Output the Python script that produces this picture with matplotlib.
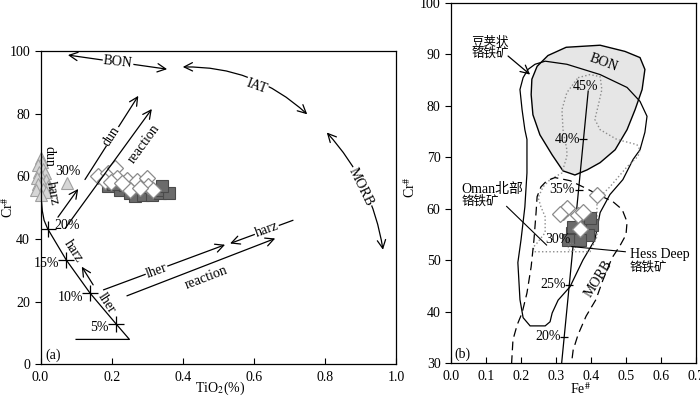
import numpy as np
import matplotlib.pyplot as plt
from matplotlib.patches import Polygon, Ellipse

plt.rcParams['font.family'] = ['Liberation Serif', 'Noto Sans CJK SC']
plt.rcParams['mathtext.fontset'] = 'stix'
plt.rcParams['font.size'] = 10

# ---------- (a) Cr# vs TiO2 ----------
melt_ti = [0.10, 0.25, 0.212, 0.139, 0.072, 0.02, 0.010, 0.005, 0.002, 0.001, 0.0, 0.0]
melt_cr = [8, 8, 13, 22.8, 33.4, 43.3, 46, 49, 53, 57, 62, 73]
pct_ti = [0.212, 0.139, 0.072, 0.02]
pct_cr = [13, 22.8, 33.4, 43.3]
pct_lab = ['5%', '10%', '15%', '20%']

tri_ti = [0.0, 0.005, -0.006, 0.008, -0.004, 0.012, 0.0, -0.010, 0.015, 0.004, -0.008, 0.020, 0.008, -0.012, 0.016, 0.0, 0.074]
tri_cr = [66, 64.5, 63.5, 62.5, 61.5, 61, 60, 59.5, 59, 58, 57.5, 57, 56, 55.5, 55, 54, 58]

sq_ti = [0.191, 0.224, 0.252, 0.266, 0.289, 0.313, 0.336, 0.36, 0.327, 0.238, 0.274, 0.297, 0.342, 0.205]
sq_cr = [56.9, 55.8, 54.8, 53.7, 54.2, 54.2, 54.8, 54.8, 55.8, 57.1, 56.8, 56.5, 56.8, 57.5]

dia_ti = [0.163, 0.191, 0.21, 0.181, 0.214, 0.242, 0.271, 0.299, 0.252, 0.303, 0.317, 0.28, 0.198, 0.229]
dia_cr = [60.1, 61.2, 62.8, 58.5, 59.6, 59.0, 58.5, 59.6, 55.8, 56.9, 55.8, 56.4, 58.1, 57.8]

# ---------- (b) Cr# vs Fe# ----------
bon_fe = [0.329, 0.426, 0.497, 0.54, 0.554, 0.546, 0.526, 0.503, 0.469, 0.426, 0.389, 0.354, 0.32, 0.289, 0.254, 0.234, 0.229, 0.231, 0.246, 0.277]
bon_cr = [91.4, 91.8, 90.6, 89.4, 87.1, 83.2, 79.3, 75.4, 71.5, 69.0, 67.6, 66.6, 67.4, 70.5, 74.4, 78.3, 82.2, 85.2, 87.7, 89.8]

pod_fe = [0.269, 0.331, 0.426, 0.503, 0.54, 0.56, 0.554, 0.54, 0.52, 0.491, 0.454, 0.426, 0.411, 0.377, 0.34, 0.306, 0.289, 0.283, 0.269, 0.226, 0.206, 0.197, 0.191, 0.2, 0.211, 0.217, 0.217, 0.211, 0.203, 0.197, 0.206, 0.22, 0.24]
pod_cr = [88.7, 88.1, 86.1, 83.6, 80.9, 78.0, 74.9, 71.5, 69.6, 65.7, 62.8, 59.3, 54.0, 50.1, 44.9, 42.3, 39.8, 38.1, 37.3, 37.3, 38.9, 42.4, 49.6, 54.0, 60.4, 67.0, 73.5, 75.4, 79.3, 83.2, 85.5, 87.1, 88.1]

morb_fe = [0.173, 0.177, 0.189, 0.203, 0.217, 0.229, 0.237, 0.243, 0.246, 0.257, 0.274, 0.297, 0.34, 0.383, 0.426, 0.463, 0.489, 0.503, 0.5, 0.483, 0.46, 0.434, 0.414, 0.386, 0.363, 0.349, 0.344]
morb_cr = [29.9, 34.6, 37.5, 39.8, 43.7, 48.8, 54.0, 59.3, 62.4, 64.3, 65.5, 66.1, 65.5, 64.1, 62.6, 61.4, 59.9, 57.5, 55.0, 52.9, 50.5, 46.2, 42.4, 39.2, 35.6, 32.6, 29.9]

oman_fe = [0.363, 0.397, 0.426, 0.431, 0.42, 0.411, 0.426, 0.474, 0.531, 0.54, 0.534, 0.503, 0.454, 0.417, 0.417, 0.397, 0.311, 0.24, 0.234, 0.246, 0.269, 0.269, 0.257, 0.249, 0.263, 0.283, 0.317, 0.331, 0.331, 0.32, 0.317, 0.331, 0.363]
oman_cr = [85.5, 86.1, 85.7, 83.2, 79.9, 77.4, 75.4, 73.5, 72.5, 71.5, 70.2, 68.2, 64.3, 61.8, 54.6, 51.7, 51.7, 51.7, 52.5, 53.4, 55.4, 58.5, 60.4, 62.2, 64.3, 65.7, 67.0, 70.2, 71.5, 75.4, 79.3, 82.6, 85.5]

mlt_fe = [0.316, 0.392]
mlt_cr = [30, 82.9]
mlt_tick_cr = [35.2, 45.3, 54.0, 63.7, 73.5]
mlt_tick_lab = ['20%', '25%', '30%', '35%', '40%']

b_dia_fe = [0.321, 0.331, 0.311, 0.364, 0.377, 0.416, 0.369]
b_dia_cr = [59.5, 60.1, 59.1, 58.9, 59.5, 62.8, 56.2]
b_sq_fe = [0.345, 0.359, 0.383, 0.402, 0.392, 0.349, 0.369, 0.334, 0.397]
b_sq_cr = [55.3, 54.7, 56.9, 56.9, 55.0, 56.6, 54.0, 54.0, 58.3]

sq_style = dict(marker='s', ms=9, mfc='#6b6b6b', mec='#4a4a4a', mew=0.8, ls='none')
dia_style = dict(marker='D', ms=8.5, mfc='white', mec='#8a8a8a', mew=0.9, ls='none')
hp = '->,head_length=0.5,head_width=0.25'
hp2 = '<->,head_length=0.5,head_width=0.25'
wbox = dict(fc='white', ec='none', pad=0.5)


def arrow(ax, p0, p1, style=hp, rad=0.0):
    ax.annotate('', xy=p1, xytext=p0,
                arrowprops=dict(arrowstyle=style, lw=0.9, color='k', shrinkA=0, shrinkB=0,
                                mutation_scale=12, connectionstyle='arc3,rad=%s' % rad))


fig = plt.figure(figsize=(7, 3.99), dpi=100)
ax1 = fig.add_axes([0.0579, 0.0865, 0.508, 0.7857])
ax2 = fig.add_axes([0.6443, 0.089, 0.35, 0.9035])

# ---- panel a ----
ax1.plot(melt_ti, melt_cr, color='k', lw=0.9)
ax1.plot(pct_ti, pct_cr, ls='none', marker='+', ms=12, mew=0.9, color='k')
for x, y, t in zip(pct_ti, pct_cr, pct_lab):
    if t == '20%':
        ax1.text(x + 0.018, y + 1.0, t, ha='left', va='center')
    else:
        ax1.text(x - 0.02, y - 1.3, t, ha='right', va='center')
ax1.plot(tri_ti, tri_cr, ls='none', marker='^', ms=9, mfc='#d6d6d6', mec='#a0a0a0', mew=0.8, clip_on=False)
ax1.plot(sq_ti, sq_cr, **sq_style)
ax1.plot(dia_ti, dia_cr, **dia_style)
ax1.text(0.076, 61.7, '30%', ha='center', va='center')

arrow(ax1, (0.077, 98.7), (0.356, 94.2), hp2)
ax1.text(0.218, 96.4, 'BON', rotation=-6, ha='center', va='center', bbox=wbox)
arrow(ax1, (0.40, 94.9), (0.75, 79.8), hp2, rad=-0.2)
ax1.text(0.608, 88.8, 'IAT', rotation=-20, ha='center', va='center', bbox=wbox)
arrow(ax1, (0.805, 74.0), (0.963, 36.6), hp2, rad=-0.15)
ax1.text(0.899, 56.5, 'MORB', rotation=-64, ha='center', va='center', bbox=wbox)

arrow(ax1, (0.125, 59.0), (0.275, 85.7))
ax1.text(0.20, 72.9, 'dun', rotation=57, ha='center', va='center', bbox=wbox)
arrow(ax1, (0.069, 43.4), (0.313, 81.5))
ax1.text(0.29, 70.5, 'reaction', rotation=54, ha='center', va='center')
arrow(ax1, (0.049, 47.0), (0.106, 56.0))
arrow(ax1, (0.148, 25.4), (0.116, 31.2))
ax1.text(0.025, 66.5, 'dun', rotation=-90, ha='center', va='center')
ax1.text(0.034, 54.5, 'harz', rotation=-80, ha='center', va='center')
ax1.text(0.092, 36.0, 'harz', rotation=-57, ha='center', va='center')
ax1.text(0.186, 19.7, 'lher', rotation=-57, ha='center', va='center')

arrow(ax1, (0.177, 23.8), (0.519, 38.2))
ax1.text(0.327, 29.8, 'lher', rotation=20, ha='center', va='center', bbox=wbox)
arrow(ax1, (0.71, 46.0), (0.533, 38.6))
ax1.text(0.636, 43.0, 'harz', rotation=20, ha='center', va='center', bbox=wbox)
arrow(ax1, (0.243, 21.9), (0.66, 40.2))
ax1.text(0.467, 27.7, 'reaction', rotation=21, ha='center', va='center')
ax1.text(0.035, 3.0, '(a)', ha='center', va='center')

ax1.set_xlim(0, 1.0)
ax1.set_ylim(0, 100)
ax1.set_xticks(np.arange(0, 1.01, 0.2))
ax1.set_xticklabels(['0.0', '0.2', '0.4', '0.6', '0.8', '1.0'])
ax1.set_yticks(np.arange(0, 101, 20))
ax1.set_xlabel('TiO$_2$(%)')
ax1.set_ylabel('Cr$^{\\#}$')
ax1.xaxis.set_label_coords(0.505, -0.048)
ax1.yaxis.set_label_coords(-0.07, 0.5)

# ---- panel b ----
ax2.add_patch(Polygon(np.column_stack([bon_fe, bon_cr]), closed=True, fc='#e6e6e6', ec='k', lw=1.0, zorder=1))
ax2.text(0.435, 88.4, 'BON', rotation=-20, ha='center', va='center')
ax2.add_patch(Polygon(np.column_stack([pod_fe, pod_cr]), closed=True, fill=False, ec='k', lw=0.9, zorder=2))
ax2.plot(oman_fe, oman_cr, color='#8c8c8c', ls=':', lw=1.0, zorder=2)
ax2.plot(morb_fe, morb_cr, color='k', lw=0.9, dashes=(7, 4), zorder=2)
ax2.text(0.421, 46.4, 'MORB', rotation=58, ha='center', va='center')

ax2.plot(mlt_fe, mlt_cr, color='k', lw=0.9, zorder=3)
tick_fe = np.interp(mlt_tick_cr, mlt_cr, mlt_fe)
ax2.plot(tick_fe, mlt_tick_cr, ls='none', marker='_', ms=6, mew=0.9, color='k', zorder=3)
for x, y, t in zip(tick_fe, mlt_tick_cr, mlt_tick_lab):
    ax2.text(x - 0.01, y, t, ha='right', va='center', zorder=5)
ax2.text(0.385, 83.8, '45%', ha='center', va='center')

ax2.plot(b_sq_fe, b_sq_cr, zorder=4, **sq_style)
ax2.plot(b_dia_fe, b_dia_cr, zorder=4, **dia_style)
ax2.add_patch(Ellipse((0.345, 52.6), 0.02, 1.6, fill=False, ec='#888888', lw=0.7, ls=':', zorder=4))

ax2.text(0.059, 92.2, '豆荚状', ha='left', va='center', fontsize=9)
ax2.text(0.059, 90.1, '铬铁矿', ha='left', va='center', fontsize=9)
arrow(ax2, (0.163, 89.7), (0.226, 86.1))
ax2.text(0.031, 63.7, 'Oman北部', ha='left', va='center')
ax2.text(0.031, 61.5, '铬铁矿', ha='left', va='center', fontsize=9)
ax2.plot([0.159, 0.273], [60.5, 53.0], color='k', lw=0.8, zorder=5)
ax2.text(0.51, 51.1, 'Hess Deep', ha='left', va='center')
ax2.text(0.51, 48.6, '铬铁矿', ha='left', va='center', fontsize=9)
ax2.plot([0.345, 0.498], [52.7, 51.7], color='k', lw=0.8, zorder=5)
ax2.text(0.034, 31.8, '(b)', ha='center', va='center')

ax2.set_xlim(0, 0.7)
ax2.set_ylim(30, 100)
ax2.set_xticks(np.arange(0, 0.71, 0.1))
ax2.set_xticklabels(['0.0', '0.1', '0.2', '0.3', '0.4', '0.5', '0.6', '0.7'])
ax2.set_yticks(np.arange(30, 101, 10))
ax2.set_xlabel('Fe$^{\\#}$')
ax2.set_ylabel('Cr$^{\\#}$')
ax2.xaxis.set_label_coords(0.527, -0.048)
ax2.yaxis.set_label_coords(-0.135, 0.487)

for ax in (ax1, ax2):
    ax.tick_params(axis='x', direction='in', length=4, width=0.8, pad=5)
    ax.tick_params(axis='y', direction='out', length=4, width=0.8)
    for s in ax.spines.values():
        s.set_linewidth(0.9)

fig.savefig('out.png', dpi=100)
plt.close()
